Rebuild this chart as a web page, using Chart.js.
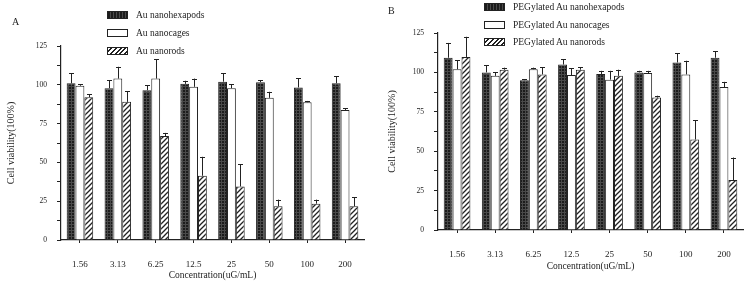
<!DOCTYPE html>
<html>
<head>
<meta charset="utf-8">
<script src="https://cdn.jsdelivr.net/npm/chart.js@4/dist/chart.umd.min.js"></script>
<style>
  body { margin: 0; background: #fff; }
  #wrap { position: relative; width: 753px; height: 284px; font-family: "Liberation Serif", "DejaVu Serif", serif; color: #222; }
  canvas { position: absolute; top: 0; }
  .panel { position: absolute; font-size: 10px; }
  .leg { position: absolute; font-size: 9.5px; line-height: 10px; white-space: nowrap; }
  .box { position: absolute; width: 21px; height: 8px; border: 1px solid #222; box-sizing: border-box; }
</style>
</head>
<body>
<div id="wrap">
  <canvas id="chartA" width="376" height="284" style="left:0"></canvas>
  <canvas id="chartB" width="377" height="284" style="left:376px"></canvas>
  <div class="panel" style="left:12px;top:16px">A</div>
  <div class="panel" style="left:388px;top:5px">B</div>
</div>
<script>
const concentrations = ["1.56", "3.13", "6.25", "12.5", "25", "50", "100", "200"];

// panel A
const hexapodsA = [101, 97.8, 96.5, 100.6, 102, 101.7, 98.3, 101];
const hexapodsASd = [6.5, 5.2, 3.3, 2, 5.5, 1.3, 6, 4.4];
const cagesA = [99.4, 104, 104, 98.7, 97.8, 91.6, 88.8, 83.8];
const cagesASd = [0.8, 7.6, 12.4, 5.3, 2.4, 3.9, 0.8, 1.2];
const rodsA = [92, 89, 67, 41.4, 34.5, 21.7, 23.4, 21.7];
const rodsASd = [2, 7, 2, 12.2, 14.2, 4.3, 2.6, 6];

// panel B
const hexapodsB = [109.3, 100, 95, 105, 99, 100, 106.3, 109.3];
const hexapodsBSd = [9.4, 4.6, 0.5, 3.3, 2, 1, 5.9, 4.2];
const cagesB = [102, 97.8, 102, 98.3, 95.4, 99.6, 98.7, 90.7];
const cagesBSd = [5.8, 2.2, 1, 4.3, 5.6, 1.4, 8.7, 3.3];
const rodsB = [109.8, 101.7, 98.7, 101.7, 97.8, 84, 57.4, 31.7];
const rodsBSd = [12.8, 1.3, 4.6, 1.6, 3.9, 1.2, 12.2, 14.3];

const labelsA = ["Au nanohexapods", "Au nanocages", "Au nanorods"];
const labelsB = ["PEGylated Au  nanohexapods", "PEGylated Au nanocages", "PEGylated Au nanorods"];

function gridPattern() {
  const c = document.createElement("canvas");
  c.width = 3; c.height = 3;
  const g = c.getContext("2d");
  g.fillStyle = "#1c1c1c";
  g.fillRect(0, 0, 3, 3);
  g.fillStyle = "#4a4a4a";
  g.fillRect(2, 0, 1, 3);
  g.fillRect(0, 2, 3, 1);
  return g.createPattern(c, "repeat");
}

function hatchPattern() {
  const c = document.createElement("canvas");
  c.width = 5; c.height = 5;
  const g = c.getContext("2d");
  g.fillStyle = "#fff";
  g.fillRect(0, 0, 5, 5);
  g.strokeStyle = "#222";
  g.lineWidth = 1.3;
  g.beginPath();
  g.moveTo(-1, 6); g.lineTo(6, -1);
  g.moveTo(-1, 1); g.lineTo(1, -1);
  g.moveTo(4, 6); g.lineTo(6, 4);
  g.stroke();
  return g.createPattern(c, "repeat");
}

// one-sided (upward) error bars
const errorBars = {
  id: "errorBars",
  afterDatasetsDraw(chart) {
    const ctx = chart.ctx;
    const y = chart.scales.y;
    ctx.save();
    ctx.strokeStyle = "#222";
    ctx.lineWidth = 1;
    chart.data.datasets.forEach((ds, di) => {
      const meta = chart.getDatasetMeta(di);
      meta.data.forEach((bar, i) => {
        const top = y.getPixelForValue(ds.data[i] + ds.sd[i]);
        ctx.beginPath();
        ctx.moveTo(Math.round(bar.x) + 0.5, bar.y);
        ctx.lineTo(Math.round(bar.x) + 0.5, top);
        ctx.moveTo(Math.round(bar.x) - 2, Math.round(top) + 0.5);
        ctx.lineTo(Math.round(bar.x) + 3, Math.round(top) + 0.5);
        ctx.stroke();
      });
    });
    ctx.restore();
  }
};

function makeChart(id, series, sds, opts) {
  const fills = [gridPattern(), "#fff", hatchPattern()];
  const datasets = series.map((data, i) => ({
    data: data,
    sd: sds[i],
    backgroundColor: fills[i],
    borderColor: "#222",
    borderWidth: 1,
    borderSkipped: "bottom",
    categoryPercentage: 0.7,
    barPercentage: 1.0
  }));
  return new Chart(document.getElementById(id), {
    type: "bar",
    data: { labels: concentrations, datasets: datasets },
    plugins: [errorBars],
    options: {
      responsive: false,
      animation: false,
      layout: { padding: { top: opts.top, right: opts.right, left: 0, bottom: 0 } },
      plugins: { legend: { display: false }, tooltip: { enabled: false } },
      scales: {
        x: {
          afterFit: (s) => { s.height = opts.below; },
          grid: { drawOnChartArea: false, tickLength: 3, color: "#222", offset: false },
          border: { color: "#222", width: 1.2 },
          ticks: { padding: opts.tickPad, color: "#222", font: { family: "Liberation Serif", size: 9 } },
          title: {
            display: true, text: "Concentration(uG/mL)", color: "#222",
            padding: { top: 0, bottom: opts.titleBottom },
            font: { family: "Liberation Serif", size: 9.5 }
          }
        },
        y: {
          min: 0, max: 125,
          afterFit: (s) => { s.width = opts.left; },
          grid: { drawOnChartArea: false, tickLength: 4, color: "#222" },
          border: { color: "#222", width: 1.2 },
          ticks: {
            stepSize: 12.5, padding: 10, color: "#222",
            font: { family: "Liberation Serif", size: 7.5 },
            callback: (v) => (v % 25 === 0 ? v : "")
          },
          title: {
            display: true, text: "Cell viability(100%)", color: "#222",
            padding: { top: opts.yTitlePad, bottom: 0 },
            font: { family: "Liberation Serif", size: 10 }
          }
        }
      }
    }
  });
}

makeChart("chartA", [hexapodsA, cagesA, rodsA], [hexapodsASd, cagesASd, rodsASd],
  { top: 46, right: 12, left: 61, below: 44, tickPad: 16, titleBottom: 3, yTitlePad: 5 });
makeChart("chartB", [hexapodsB, cagesB, rodsB], [hexapodsBSd, cagesBSd, rodsBSd],
  { top: 33, right: 10, left: 62, below: 54, tickPad: 16, titleBottom: 12, yTitlePad: 10 });

// legends
function legend(left, tops, labels) {
  const wrap = document.getElementById("wrap");
  const fills = ["grid", "white", "hatch"];
  labels.forEach((t, i) => {
    const b = document.createElement("div");
    b.className = "box";
    b.style.left = left + "px";
    b.style.top = (tops[i] - 4) + "px";
    if (fills[i] === "grid") b.style.background = "repeating-linear-gradient(90deg,#1c1c1c 0 2px,#4a4a4a 2px 3px)";
    if (fills[i] === "hatch") b.style.background = "repeating-linear-gradient(135deg,#fff 0 2px,#222 2px 3.3px)";
    wrap.appendChild(b);
    const l = document.createElement("div");
    l.className = "leg";
    l.style.left = (left + 29) + "px";
    l.style.top = (tops[i] - 5) + "px";
    l.textContent = t;
    wrap.appendChild(l);
  });
}
legend(107, [15, 33, 51], labelsA);
legend(484, [7, 25, 42], labelsB);
</script>
</body>
</html>
